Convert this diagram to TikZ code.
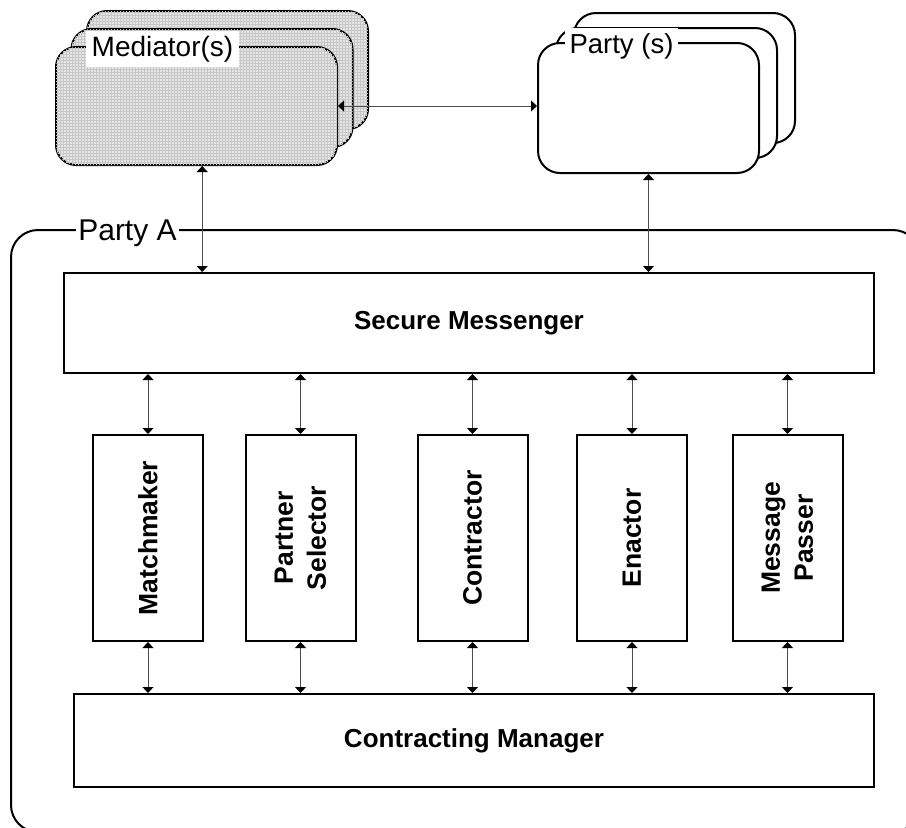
\documentclass[tikz,border=0pt]{standalone}
\usepackage{fontspec}
\setmainfont{Liberation Sans}
\usetikzlibrary{arrows.meta,patterns,calc}
\begin{document}
\begin{tikzpicture}[x=1pt,y=-1pt,
  box/.style={draw, line width=2pt, inner sep=0pt},
  modbox/.style={box, minimum width=110pt, minimum height=206pt},
  modtext/.style={rotate=90, align=center, font=\fontsize{26.5}{33}\selectfont\bfseries},
  bigtext/.style={font=\fontsize{26}{30}\selectfont\bfseries},
  medbox/.style={draw, line width=2pt, rounded corners=20pt, fill=black!10,
    postaction={pattern=grid, pattern color=black!22},
    minimum width=281pt, minimum height=118pt, inner sep=0pt},
  partybox/.style={draw, line width=2pt, rounded corners=22pt, fill=white,
    minimum width=221pt, minimum height=130pt, inner sep=0pt},
  tag/.style={fill=white, inner sep=3pt, anchor=base},
  link/.style={draw=black!70, line width=0.9pt,
    {Triangle[width=11pt,length=6pt,color=black]}-{Triangle[width=11pt,length=6pt,color=black]}}
]
\useasboundingbox (0,0) rectangle (906,828);
\clip (0,0) rectangle (906,828);

% Party A frame
\node (partyA) [draw, line width=2pt, rounded corners=27pt, minimum width=909pt,
  minimum height=602pt, inner sep=0pt, anchor=north west] at (10,229) {};
\node (partyAlbl) [tag, inner xsep=2pt, font=\fontsize{30}{36}\selectfont] at (127.5,240) {Party A};

% Mediator stack
\node (medB) [medbox] at (227.5,70) {};
\node (medM) [medbox] at (212,88) {};
\node (medF) [medbox] at (196.5,106) {};
\node (medlbl) [tag, inner xsep=6pt, inner ysep=5pt, font=\fontsize{28}{33}\selectfont] at (162.5,56) {Mediator(s)};

% Party stack
\node (pB) [partybox] at (684.5,78) {};
\node (pM) [partybox] at (666.5,93) {};
\node (pF) [partybox] at (648.5,108) {};
\node (plbl) [tag, inner xsep=5pt, inner ysep=5pt, font=\fontsize{27.5}{33}\selectfont] at (621.5,53) {Party (s)};

% Secure Messenger and Contracting Manager
\node (sm) [box, minimum width=810pt, minimum height=100pt, bigtext] at (469,323) {Secure Messenger};
\node (cm) [box, minimum width=800pt, minimum height=93pt, bigtext] at (474,740.5) {Contracting Manager};

% Modules
\node (mm) [modbox] at (148,538) {};
\node [modtext] at (mm) {Matchmaker};
\node (ps) [modbox] at (300.5,538) {};
\node [modtext] at (ps) {Partner\\Selector};
\node (ct) [modbox] at (472.5,538) {};
\node [modtext] at (ct) {Contractor};
\node (en) [modbox] at (632,538) {};
\node [modtext] at (en) {Enactor};
\node (mp) [modbox] at (787.5,538) {};
\node [modtext] at (mp) {Message\\Passer};

% Connectors
\draw[link] (medF.east) -- (medF.east -| pF.west);
\draw[link] ($(medF.south west)!0.52!(medF.south east)$) -- (sm.north -| {$(medF.south west)!0.52!(medF.south east)$});
\draw[link] (pF.south) -- (sm.north -| pF.south);
\foreach \m in {mm,ps,ct,en,mp}{
  \draw[link] (sm.south -| \m.north) -- (\m.north);
  \draw[link] (\m.south) -- (cm.north -| \m.south);
}
\end{tikzpicture}
\end{document}
